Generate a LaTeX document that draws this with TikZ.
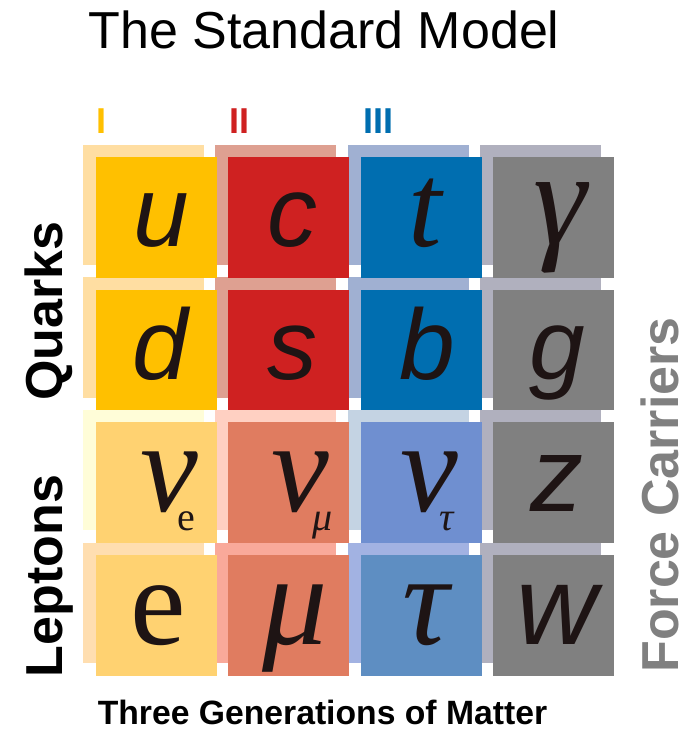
\documentclass[tikz,border=0pt]{standalone}
\usepackage{fontspec}
\setmainfont{Liberation Sans}
\newfontfamily\tnr{Liberation Serif}

% column / row palette: back tiles (b) and front tiles (f)
\definecolor{qAb}{HTML}{FFDEA2}\definecolor{qAf}{HTML}{FFC000}
\definecolor{qBb}{HTML}{DEA091}\definecolor{qBf}{HTML}{CF2121}
\definecolor{qCb}{HTML}{A0B0D2}\definecolor{qCf}{HTML}{006EB0}
\definecolor{gb}{HTML}{B0B0BE}\definecolor{gf}{HTML}{808080}
\definecolor{nAb}{HTML}{FFFDD8}\definecolor{nAf}{HTML}{FFD271}
\definecolor{nBb}{HTML}{FFD0C2}\definecolor{nBf}{HTML}{E07C60}
\definecolor{nCb}{HTML}{C4D3E3}\definecolor{nCf}{HTML}{6F8FD0}
\definecolor{lAb}{HTML}{FFDEB0}\definecolor{lAf}{HTML}{FFD271}
\definecolor{lBb}{HTML}{F9A99A}\definecolor{lBf}{HTML}{E07C60}
\definecolor{lCb}{HTML}{A2B2E2}\definecolor{lCf}{HTML}{5E8EC2}
\definecolor{ink}{HTML}{1E1414}
\definecolor{labelgray}{HTML}{808080}

% neutrino symbol with a lowered, tucked-in index
\newcommand{\nusym}[2]{ν\kern#1\raisebox{-19pt}{\fontsize{40}{40}\selectfont#2}}

\begin{document}
\begin{tikzpicture}[x=1pt,y=-1pt,
  sym/.style={anchor=base,inner sep=0pt,text=ink,font=\fontsize{100}{100}\selectfont\itshape},
  grk/.style={anchor=base,inner sep=0pt,text=ink,font=\tnr\fontsize{130}{130}\selectfont\itshape},
  side/.style={anchor=base,inner sep=0pt,rotate=90,font=\fontsize{52}{52}\selectfont\bfseries},
  gen/.style={anchor=base,inner sep=0pt,font=\fontsize{36}{36}\selectfont\bfseries}]
\useasboundingbox (0,0) rectangle (692,731);

% back tiles
\foreach \c/\r/\col in {0/0/qAb,1/0/qBb,2/0/qCb,3/0/gb,
                        0/1/qAb,1/1/qBb,2/1/qCb,3/1/gb,
                        0/2/nAb,1/2/nBb,2/2/nCb,3/2/gb,
                        0/3/lAb,1/3/lBb,2/3/lCb,3/3/gb}
  \fill[\col] ({96+132.3*\c-13},{157+132.7*\r-12.5}) rectangle ++(121,120.5);

% front tiles
\foreach \c/\r/\col in {0/0/qAf,1/0/qBf,2/0/qCf,3/0/gf,
                        0/1/qAf,1/1/qBf,2/1/qCf,3/1/gf,
                        0/2/nAf,1/2/nBf,2/2/nCf,3/2/gf,
                        0/3/lAf,1/3/lBf,2/3/lCf,3/3/gf}
  \fill[\col] ({96+132.3*\c},{157+132.7*\r}) rectangle ++(121,120.5);

% title
\node[anchor=base,inner sep=0pt,font=\fontsize{52}{52}\selectfont] (title) at (324,48) {The Standard Model};

% generation marks
\node[gen,text=qAf] (genI) at (101.5,133) {I};
\node[gen,text=qBf] (genII) at (239.5,133) {II};
\node[gen,text=qCf] (genIII) at (378,133) {III};

% quarks
\node[sym] (u) at (161,246) {u};
\node[sym] (c) at (292,246) {c};
\node[grk,font=\tnr\fontsize{120}{120}\selectfont\itshape] (t) at (425,246) {t};
\node[grk,font=\tnr\fontsize{135}{135}\selectfont\itshape] (gamma) at (560,244) {γ};
\node[sym] (d) at (160,379) {d};
\node[sym] (s) at (292,379) {s};
\node[sym] (b) at (427,379) {b};
\node[sym] (g) at (557,379) {g};

% leptons
\node[grk] (nue) at (168,511) {\nusym{-20pt}{\upshape e}};
\node[grk] (numu) at (302,511) {\nusym{-16pt}{\itshape μ}};
\node[grk] (nutau) at (427,511) {\nusym{-19pt}{\itshape τ}};
\node[sym,font=\fontsize{106}{106}\selectfont\itshape] (z) at (557,511) {z};
\node[grk,font=\tnr\fontsize{125}{125}\selectfont] (e) at (158,644) {e};
\node[grk] (mu) at (295,644) {μ};
\node[grk] (tau) at (426,644) {τ};
\node[sym,font=\fontsize{112}{112}\selectfont\itshape] (w) at (557,644) {w};

% side labels
\node[side] (quarks) at (62,311) {Quarks};
\node[side] (leptons) at (62,576) {Leptons};
\node[side,text=labelgray] (carriers) at (678,495) {Force Carriers};
\node[anchor=base,inner sep=0pt,text depth=0pt,font=\fontsize{33.7}{33.7}\selectfont\bfseries] (matter) at (322.5,724) {Three Generations of Matter};
\end{tikzpicture}
\end{document}
